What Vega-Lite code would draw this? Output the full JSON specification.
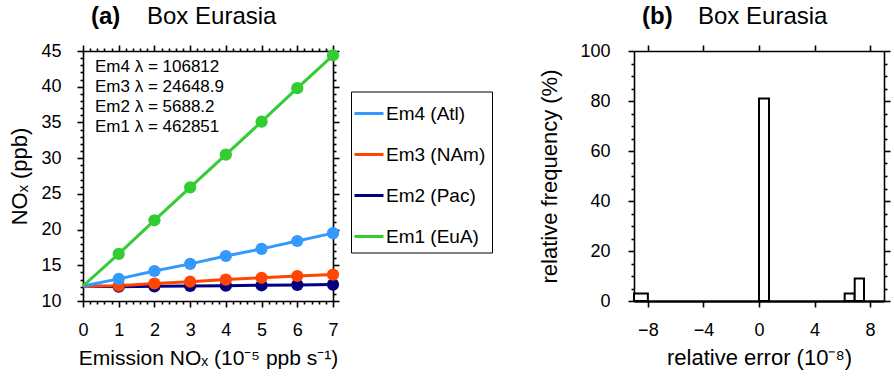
{
  "$schema": "https://vega.github.io/schema/vega-lite/v6.json",
  "padding": {"left": 8, "top": 5, "right": 5, "bottom": 5},
  "background": "white",
  "bounds": "flush",
  "spacing": 301,
  "config": {
    "font": "Liberation Sans",
    "view": {"stroke": null},
    "axis": {
      "grid": false, "domainColor": "black", "domainWidth": 1.6, "tickColor": "black", "tickWidth": 1.6,
      "labelColor": "black", "titleColor": "black", "labelFontSize": 18, "titleFontSize": 22,
      "titleFontWeight": "normal", "labelFont": "Liberation Sans", "titleFont": "Liberation Sans", "labelFlush": false
    },
    "title": {"font": "Liberation Sans", "subtitleFont": "Liberation Sans", "color": "black", "subtitleColor": "black"}
  },
  "hconcat": [
    {
      "width": 250, "height": 250,
      "title": {"text": "(a)", "subtitle": "\u200B\u2003\u2003\u2004Box Eurasia", "anchor": "start", "frame": "group", "fontSize": 24, "fontWeight": "bold", "subtitleFontSize": 24, "subtitlePadding": -24, "offset": 13, "dx": 8},
      "data": {"values": [
        {"series": "Em2 (Pac)", "lam": "Em2 λ = 5688.2", "emission": 0, "nox": 12.1},
        {"series": "Em2 (Pac)", "lam": "Em2 λ = 5688.2", "emission": 1, "nox": 12.0},
        {"series": "Em2 (Pac)", "lam": "Em2 λ = 5688.2", "emission": 2, "nox": 12.05},
        {"series": "Em2 (Pac)", "lam": "Em2 λ = 5688.2", "emission": 3, "nox": 12.1},
        {"series": "Em2 (Pac)", "lam": "Em2 λ = 5688.2", "emission": 4, "nox": 12.15},
        {"series": "Em2 (Pac)", "lam": "Em2 λ = 5688.2", "emission": 5, "nox": 12.2},
        {"series": "Em2 (Pac)", "lam": "Em2 λ = 5688.2", "emission": 6, "nox": 12.25},
        {"series": "Em2 (Pac)", "lam": "Em2 λ = 5688.2", "emission": 7, "nox": 12.3},
        {"series": "Em3 (NAm)", "lam": "Em3 λ = 24648.9", "emission": 0, "nox": 12.1},
        {"series": "Em3 (NAm)", "lam": "Em3 λ = 24648.9", "emission": 1, "nox": 12.15},
        {"series": "Em3 (NAm)", "lam": "Em3 λ = 24648.9", "emission": 2, "nox": 12.45},
        {"series": "Em3 (NAm)", "lam": "Em3 λ = 24648.9", "emission": 3, "nox": 12.7},
        {"series": "Em3 (NAm)", "lam": "Em3 λ = 24648.9", "emission": 4, "nox": 13.0},
        {"series": "Em3 (NAm)", "lam": "Em3 λ = 24648.9", "emission": 5, "nox": 13.25},
        {"series": "Em3 (NAm)", "lam": "Em3 λ = 24648.9", "emission": 6, "nox": 13.5},
        {"series": "Em3 (NAm)", "lam": "Em3 λ = 24648.9", "emission": 7, "nox": 13.7},
        {"series": "Em4 (Atl)", "lam": "Em4 λ = 106812", "emission": 0, "nox": 12.1},
        {"series": "Em4 (Atl)", "lam": "Em4 λ = 106812", "emission": 1, "nox": 13.1},
        {"series": "Em4 (Atl)", "lam": "Em4 λ = 106812", "emission": 2, "nox": 14.2},
        {"series": "Em4 (Atl)", "lam": "Em4 λ = 106812", "emission": 3, "nox": 15.2},
        {"series": "Em4 (Atl)", "lam": "Em4 λ = 106812", "emission": 4, "nox": 16.3},
        {"series": "Em4 (Atl)", "lam": "Em4 λ = 106812", "emission": 5, "nox": 17.3},
        {"series": "Em4 (Atl)", "lam": "Em4 λ = 106812", "emission": 6, "nox": 18.4},
        {"series": "Em4 (Atl)", "lam": "Em4 λ = 106812", "emission": 7, "nox": 19.5},
        {"series": "Em1 (EuA)", "lam": "Em1 λ = 462851", "emission": 0, "nox": 12.1},
        {"series": "Em1 (EuA)", "lam": "Em1 λ = 462851", "emission": 1, "nox": 16.6},
        {"series": "Em1 (EuA)", "lam": "Em1 λ = 462851", "emission": 2, "nox": 21.3},
        {"series": "Em1 (EuA)", "lam": "Em1 λ = 462851", "emission": 3, "nox": 25.9},
        {"series": "Em1 (EuA)", "lam": "Em1 λ = 462851", "emission": 4, "nox": 30.5},
        {"series": "Em1 (EuA)", "lam": "Em1 λ = 462851", "emission": 5, "nox": 35.1},
        {"series": "Em1 (EuA)", "lam": "Em1 λ = 462851", "emission": 6, "nox": 39.8},
        {"series": "Em1 (EuA)", "lam": "Em1 λ = 462851", "emission": 7, "nox": 44.4}
      ]},
      "resolve": {"axis": {"x": "independent", "y": "independent"}},
      "layer": [
        {
          "mark": {"type": "line", "strokeWidth": 3},
          "encoding": {
            "x": {"field": "emission", "type": "quantitative", "scale": {"domain": [0, 7], "nice": false},
                  "axis": {"orient": "bottom", "values": [0, 1, 2, 3, 4, 5, 6, 7], "tickSize": 6, "labelPadding": 14, "titlePadding": 8, "titleFontSize": 21, "title": "Emission NOₓ (10⁻⁵ ppb s⁻¹)"}},
            "y": {"field": "nox", "type": "quantitative", "scale": {"domain": [10, 45], "nice": false, "zero": false},
                  "axis": {"orient": "left", "values": [10, 15, 20, 25, 30, 35, 40, 45], "tickSize": 6, "labelPadding": 16, "titlePadding": 9, "title": "NOₓ (ppb)"}},
            "color": {"field": "series", "type": "nominal", "sort": ["Em4 (Atl)", "Em3 (NAm)", "Em2 (Pac)", "Em1 (EuA)"],
                      "scale": {"domain": ["Em4 (Atl)", "Em3 (NAm)", "Em2 (Pac)", "Em1 (EuA)"], "range": ["#3399ff", "#ff4500", "#000080", "#33cc33"]},
                      "legend": {"orient": "none", "legendX": 268, "legendY": 40.5, "title": null, "symbolType": "stroke", "symbolSize": 841, "symbolStrokeWidth": 3,
                                 "labelFontSize": 19, "labelColor": "black", "labelOffset": 1, "rowPadding": 15, "padding": 6, "strokeColor": "black", "fillColor": "white", "symbolOffset": -4, "labelLimit": 200}},
            "detail": {"field": "series"}
          }
        },
        {
          "transform": [{"filter": "datum.emission > 0"}],
          "mark": {"type": "point", "filled": true, "size": 150, "opacity": 1},
          "encoding": {
            "x": {"field": "emission", "type": "quantitative", "axis": {"orient": "top", "values": [0, 1, 2, 3, 4, 5, 6, 7], "tickSize": 6, "labels": false, "title": null}},
            "y": {"field": "nox", "type": "quantitative", "axis": {"orient": "right", "values": [10, 15, 20, 25, 30, 35, 40, 45], "tickSize": 6, "labels": false, "title": null}},
            "color": {"field": "series", "type": "nominal", "sort": ["Em4 (Atl)", "Em3 (NAm)", "Em2 (Pac)", "Em1 (EuA)"]}
          }
        },
        {
          "mark": {"type": "point", "opacity": 0},
          "encoding": {
            "x": {"field": "emission", "type": "quantitative", "axis": {"orient": "bottom", "values": [0.2, 0.4, 0.6, 0.8, 1.2, 1.4, 1.6, 1.8, 2.2, 2.4, 2.6, 2.8, 3.2, 3.4, 3.6, 3.8, 4.2, 4.4, 4.6, 4.8, 5.2, 5.4, 5.6, 5.8, 6.2, 6.4, 6.6, 6.8], "tickSize": 3, "labels": false, "domain": false, "title": null}},
            "y": {"field": "nox", "type": "quantitative", "axis": {"orient": "left", "values": [11, 12, 13, 14, 16, 17, 18, 19, 21, 22, 23, 24, 26, 27, 28, 29, 31, 32, 33, 34, 36, 37, 38, 39, 41, 42, 43, 44], "tickSize": 3, "labels": false, "domain": false, "title": null}},
            "shape": {"field": "lam", "type": "nominal", "sort": ["Em4 λ = 106812", "Em3 λ = 24648.9", "Em2 λ = 5688.2", "Em1 λ = 462851"],
                      "scale": {"range": ["circle", "circle", "circle", "circle"]},
                      "legend": {"orient": "none", "legendX": -5, "legendY": 7, "title": null, "symbolSize": 0, "symbolOpacity": 0, "symbolStrokeWidth": 0, "labelFontSize": 17, "labelColor": "black", "rowPadding": 2, "padding": 0, "labelOffset": 0, "labelLimit": 200}}
          }
        },
        {
          "mark": {"type": "point", "opacity": 0},
          "encoding": {
            "x": {"field": "emission", "type": "quantitative", "axis": {"orient": "top", "values": [0.2, 0.4, 0.6, 0.8, 1.2, 1.4, 1.6, 1.8, 2.2, 2.4, 2.6, 2.8, 3.2, 3.4, 3.6, 3.8, 4.2, 4.4, 4.6, 4.8, 5.2, 5.4, 5.6, 5.8, 6.2, 6.4, 6.6, 6.8], "tickSize": 3, "labels": false, "domain": false, "title": null}},
            "y": {"field": "nox", "type": "quantitative", "axis": {"orient": "right", "values": [11, 12, 13, 14, 16, 17, 18, 19, 21, 22, 23, 24, 26, 27, 28, 29, 31, 32, 33, 34, 36, 37, 38, 39, 41, 42, 43, 44], "tickSize": 3, "labels": false, "domain": false, "title": null}}
          }
        }
      ]
    },
    {
      "width": 250, "height": 250,
      "title": {"text": "(b)", "subtitle": "\u200B\u2003\u2003\u2004Box Eurasia", "anchor": "start", "frame": "group", "fontSize": 24, "fontWeight": "bold", "subtitleFontSize": 24, "subtitlePadding": -24, "offset": 13, "dx": 8},
      "data": {"values": [
        {"lo": -9, "hi": -8, "freq": 3},
        {"lo": 0, "hi": 0.72, "freq": 81},
        {"lo": 6.17, "hi": 6.89, "freq": 3},
        {"lo": 6.89, "hi": 7.56, "freq": 9}
      ]},
      "resolve": {"axis": {"x": "independent", "y": "independent"}},
      "layer": [
        {
          "mark": {"type": "rect", "fill": "white", "stroke": "black", "strokeWidth": 2},
          "encoding": {
            "x": {"field": "lo", "type": "quantitative", "scale": {"domain": [-9, 9], "nice": false},
                  "axis": {"orient": "bottom", "values": [-8, -4, 0, 4, 8], "tickSize": 6, "labelPadding": 14, "titlePadding": 8, "domainWidth": 2.5, "title": "relative error (10⁻⁸)"}},
            "x2": {"field": "hi"},
            "y": {"field": "freq", "type": "quantitative", "scale": {"domain": [0, 100], "nice": false},
                  "axis": {"orient": "left", "values": [0, 20, 40, 60, 80, 100], "tickSize": 6, "labelPadding": 18, "titlePadding": 18, "title": "relative frequency (%)"}},
            "y2": {"datum": 0}
          }
        },
        {
          "mark": {"type": "rect", "opacity": 0},
          "encoding": {
            "x": {"field": "lo", "type": "quantitative", "axis": {"orient": "top", "values": [-8, -4, 0, 4, 8], "tickSize": 6, "labels": false, "title": null}},
            "x2": {"field": "hi"},
            "y": {"field": "freq", "type": "quantitative", "axis": {"orient": "right", "values": [0, 20, 40, 60, 80, 100], "tickSize": 6, "labels": false, "title": null}},
            "y2": {"datum": 0}
          }
        },
        {
          "mark": {"type": "point", "opacity": 0},
          "encoding": {
            "x": {"field": "lo", "type": "quantitative", "axis": null},
            "y": {"field": "freq", "type": "quantitative", "axis": {"orient": "left", "values": [5, 10, 15, 25, 30, 35, 45, 50, 55, 65, 70, 75, 85, 90, 95], "tickSize": 3, "labels": false, "domain": false, "title": null}}
          }
        },
        {
          "mark": {"type": "point", "opacity": 0},
          "encoding": {
            "x": {"field": "lo", "type": "quantitative", "axis": null},
            "y": {"field": "freq", "type": "quantitative", "axis": {"orient": "right", "values": [5, 10, 15, 25, 30, 35, 45, 50, 55, 65, 70, 75, 85, 90, 95], "tickSize": 3, "labels": false, "domain": false, "title": null}}
          }
        }
      ]
    }
  ]
}
